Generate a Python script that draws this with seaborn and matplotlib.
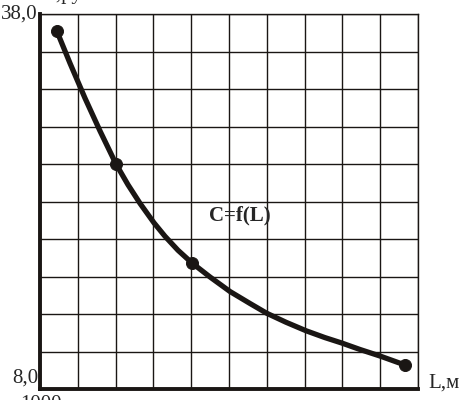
import numpy as np
import pandas as pd
import seaborn as sns
import matplotlib.pyplot as plt

# measured points (L, m ; C, rub)
L_points = [1221, 2005, 3007, 5828]
C_points = [36.66, 26.0, 18.10, 9.92]

# smooth curve
L_curve = [1221, 1397, 1595, 1794, 2005, 2164, 2323, 2508, 2653, 2825, 3007,
           3249, 3513, 3778, 3999, 4254, 4519, 4770, 4991, 5233, 5497, 5828]
C_curve = [36.66, 34.06, 31.27, 28.64, 26.0, 24.34, 22.85, 21.29, 20.22, 19.10, 18.10,
           16.96, 15.80, 14.84, 14.06, 13.34, 12.66, 12.11, 11.68, 11.16, 10.64, 9.92]

x_grid = np.arange(1000, 6001, 500)
y_grid = np.arange(8, 38.1, 3)

sns.set_style("white")
plt.rcParams['font.family'] = ['Liberation Serif', 'DejaVu Serif']

fig = plt.figure(figsize=(4.62, 4.0), dpi=100)
ax = fig.add_axes([40 / 462, 1 - 389 / 400, 378 / 462, 375 / 400])

curve = pd.DataFrame({"L": L_curve, "C": C_curve})
pts = pd.DataFrame({"L": L_points, "C": C_points})

sns.lineplot(data=curve, x="L", y="C", ax=ax, color="#1a1614", linewidth=3.8,
             sort=False, solid_capstyle="round", solid_joinstyle="round")
sns.scatterplot(data=pts, x="L", y="C", ax=ax, color="#1a1614", s=75,
                edgecolor="#1a1614", zorder=5)

ax.set_xlim(1000, 6000)
ax.set_ylim(8, 38)
ax.set_xticks(x_grid)
ax.set_yticks(y_grid)
ax.set_xticklabels([])
ax.set_yticklabels([])
ax.tick_params(length=0)
ax.grid(True, color="#1a1614", linewidth=1.0)
ax.set_xlabel("")
ax.set_ylabel("")

for side in ["top", "right"]:
    ax.spines[side].set_linewidth(1.0)
    ax.spines[side].set_color("#1a1614")
for side in ["left", "bottom"]:
    ax.spines[side].set_linewidth(2.8)
    ax.spines[side].set_color("#1a1614")

fig.text(38 / 462, 1 - 14 / 400, "38,0", ha="right", va="center", fontsize=15)
fig.text(38 / 462, 1 - 378 / 400, "8,0", ha="right", va="center", fontsize=15)
fig.text(428 / 462, 1 - 383 / 400, "L,м", ha="left", va="center", fontsize=15)
fig.text(42 / 462, 1 + 1 / 400, "C,руб", ha="left", va="baseline", fontsize=15)
fig.text(41 / 462, 1 - 395 / 400, "1000", ha="center", va="top", fontsize=15)
ax.text(3646, 21.9, "C=f(L)", ha="center", va="center", fontsize=15,
        fontweight="bold")

fig.savefig("out.png", dpi=100)
